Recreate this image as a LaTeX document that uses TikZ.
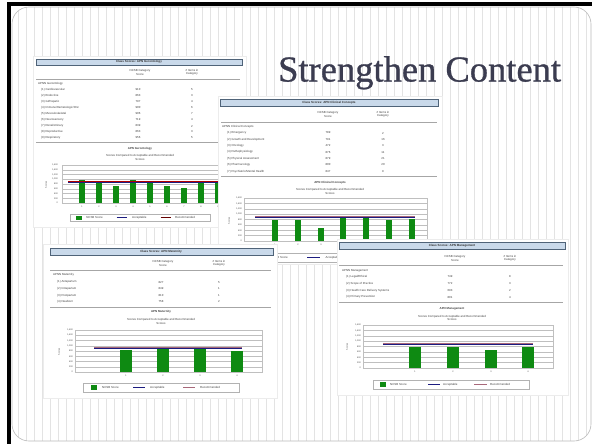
\documentclass[tikz,border=0pt]{standalone}
\usepackage{fontspec}
\newfontfamily\reportfont{Liberation Sans}
\newfontfamily\slidefont[FakeBold=0.8]{Liberation Serif}
\definecolor{headblue}{HTML}{C9D9EA}
\definecolor{headedge}{HTML}{4F6378}
\definecolor{barGreen}{HTML}{0E8A12}
\definecolor{accBlue}{HTML}{1C1C80}
\definecolor{recRose}{HTML}{A8687A}
\definecolor{titlegray}{HTML}{3B3C50}

\begin{document}
\begin{tikzpicture}[x=1pt, y=-1pt,
  stripe/.style={draw=gray!22, line width=0.5pt},
  slide edge/.style={draw=gray!55, line width=0.6pt, rounded corners=17pt},
  title/.style={anchor=base west, inner sep=0pt, font=\slidefont\fontsize{36.5}{40}\selectfont, text=titlegray},
  panel/.style={fill=white, draw=gray!15, line width=0.3pt},
  headbar/.style={fill=headblue, draw=headedge, line width=0.6pt},
  tiny/.style={font=\reportfont\fontsize{2.9}{3.4}\selectfont, text=black!75, inner sep=0pt},
  headtext/.style={tiny, font=\reportfont\bfseries\fontsize{3}{3.4}\selectfont, text=black!80},
  charttitle/.style={tiny, font=\reportfont\bfseries\fontsize{2.9}{3.4}\selectfont},
  axis label/.style={tiny, font=\reportfont\fontsize{2.2}{2.6}\selectfont},
  rule/.style={draw=gray!70, line width=0.7pt},
  grid line/.style={draw=gray!50, line width=0.3pt},
  bar/.style={fill=barGreen},
  acceptable/.style={draw=accBlue, line width=1pt},
  recommended/.style={draw=recRose, line width=1.2pt},
  legend box/.style={draw=gray!60, fill=white, line width=0.4pt}]

  % Define slide frame
  \useasboundingbox (0,0) rectangle (592,444);
  \fill[white] (0,0) rectangle (592,444);
  \fill[black] (7,2) rectangle (592,6);
  \fill[black] (7,2) rectangle (11,444);
  \begin{scope}
    \path[clip, rounded corners=17pt] (12,7) rectangle (591,441);
    \fill[white] (12,7) rectangle (591,441);
    \foreach \sx in {10.7,18.7,...,594.7}
      \draw[stripe] (\sx,7) -- (\sx,441);
  \end{scope}
  \draw[slide edge] (12,7) rectangle (591,441);

  \node[title] (title) at (278,81.5) {Strengthen Content};

  % Gerontology report
  \path[panel] (33,56) rectangle (246,227);
  \draw[headbar] (36,59) rectangle (242,65);
  \node[headtext] (geront head) at (139,62) {Class Scores: APN Gerontology};
  \node[tiny, align=center] (geront col1) at (140,72.5) {NCSB Category\\Score};
  \node[tiny, align=center] (geront col2) at (192,72.5) {\# Items in\\Category};
  \draw[rule] (36,79) -- (240,79);
  \node[tiny, anchor=west] (geront area) at (38,84) {APNN Gerontology};
  \foreach \lab/\sc/\n [count=\i] in {(1) Cardiovascular/910/5, (2) Endocrine/863/3,
      (3) GI{/}Hepatic/797/4, (4) Immune{/}Hematologic{/}Onc/900/6, (5) Musculoskeletal/906/7,
      (6) Neurosensory/719/4, (7) Renal{/}Urinary/839/2, (8) Reproductive/863/3, (9) Respiratory/956/5}
    {
      \node[tiny, anchor=west] (geront row\i) at (41,{84+6*\i}) {\lab};
      \node[tiny] (geront score\i) at (138,{84+6*\i}) {\sc};
      \node[tiny] (geront items\i) at (192,{84+6*\i}) {\n};
    }
  \draw[rule] (36,142) -- (240,142);
  \node[charttitle] (geront chart) at (140,149) {APN Gerontology};
  \node[tiny, align=center] (geront sub) at (140,157.5) {Scores Compared to Acceptable and Recommended\\Scores};
  \draw[grid line] (62,165) rectangle (240,203);
  \foreach \k in {1,...,7}
    \draw[grid line] (62,{165+\k*4.75}) -- (240,{165+\k*4.75});
  \foreach \lab [count=\k from 0] in {{1,600},{1,400},{1,200},{1,000},800,600,400,200,0}
    \node[axis label, anchor=east] at (58,{165+\k*4.75}) {\lab};
  \node[axis label, rotate=90] (geront axis) at (46,185) {Scores};
  \foreach \bx/\v [count=\i] in {82/963, 99/866, 116/722, 133/963, 150/866, 167/722, 184/637, 201/866, 218/866}
    {
      \fill[bar] ({\bx-3},{203-\v/1600*38}) rectangle ({\bx+3},203);
      \node[axis label] at (\bx,206.5) {\i};
    }
  \draw[acceptable] (68,{203-866/1600*38}) -- (240,{203-866/1600*38});
  \draw[recommended, draw=red!70!black] (68,{202-866/1600*38}) -- (240,{202-866/1600*38});
  \begin{scope}[shift={(70,214)}, xscale=140/156]
    \draw[legend box] (0,0) rectangle (156,7);
    \fill[bar] (7,1.5) rectangle (13,5.5);
    \node[tiny, anchor=west] (geront key1) at (18,3.5) {NCSB Score};
    \draw[acceptable, line width=1.4pt] (52,3.5) -- (64,3.5);
    \node[tiny, anchor=west] (geront key2) at (69,3.5) {Acceptable};
    \draw[recommended, draw=red!40!black, line width=1.4pt] (101,3.5) -- (113,3.5);
    \node[tiny, anchor=west] (geront key3) at (117,3.5) {Recommended};
  \end{scope}

  % Clinical concepts report
  \path[panel] (218,96) rectangle (442,264);
  \draw[headbar] (220,99) rectangle (438,106);
  \node[headtext] (clinic head) at (329,102.5) {Class Scores: APN Clinical Concepts};
  \node[tiny, align=center] (clinic col1) at (328,114.5) {NCSB Category\\Score};
  \node[tiny, align=center] (clinic col2) at (383,114.5) {\# Items in\\Category};
  \draw[rule] (221,122) -- (437,122);
  \node[tiny, anchor=west] (clinic area) at (222,127) {APNN Clinical Concepts};
  \foreach \lab/\sc/\n [count=\i] in {(1) Emergency/789/2, (2) Growth and Development/791/16,
      (3) Oncology/472/3, (4) Pathophysiology/876/11, (5) Physical Assessment/879/21,
      (6) Pharmacology/800/20, (7) Psychiatric{/}Mental Health/847/9}
    {
      \node[tiny, anchor=west] (clinic row\i) at (227,{126.6+6.4*\i}) {\lab};
      \node[tiny] (clinic score\i) at (328,{126.6+6.4*\i}) {\sc};
      \node[tiny] (clinic items\i) at (383,{126.6+6.4*\i}) {\n};
    }
  \draw[rule] (221,176) -- (437,176);
  \node[charttitle] (clinic chart) at (330,183) {APN Clinical Concepts};
  \node[tiny, align=center] (clinic sub) at (330,191.5) {Scores Compared to Acceptable and Recommended\\Scores};
  \draw[grid line] (244,198) rectangle (427,241);
  \foreach \k in {1,...,7}
    \draw[grid line] (244,{198+\k*5.375}) -- (427,{198+\k*5.375});
  \foreach \lab [count=\k from 0] in {{1,600},{1,400},{1,200},{1,000},800,600,400,200,0}
    \node[axis label, anchor=east] at (242,{198+\k*5.375}) {\lab};
  \node[axis label, rotate=90] (clinic axis) at (229,221) {Scores};
  \foreach \bx/\v [count=\i] in {275/767, 298/767, 321/476, 343/860, 366/860, 389/767, 412/821}
    {
      \fill[bar] ({\bx-3.3},{241-\v/1600*43}) rectangle ({\bx+3.3},241);
      \node[axis label] at (\bx,244.5) {\i};
    }
  \draw[acceptable] (255,{241-860/1600*43}) -- (415,{241-860/1600*43});
  \draw[recommended] (255,{239.8-860/1600*43}) -- (415,{239.8-860/1600*43});
  \begin{scope}[shift={(252,253)}, xscale=166/156]
    \draw[legend box] (0,0) rectangle (156,9);
    \fill[bar] (7,2) rectangle (13,7);
    \node[tiny, anchor=west] (clinic key1) at (18,4.5) {NCSB Score};
    \draw[acceptable, line width=1.4pt] (52,4.5) -- (64,4.5);
    \node[tiny, anchor=west] (clinic key2) at (69,4.5) {Acceptable};
    \draw[recommended, line width=1.4pt] (101,4.5) -- (113,4.5);
    \node[tiny, anchor=west] (clinic key3) at (117,4.5) {Recommended};
  \end{scope}

  % Maternity report
  \path[panel] (43,244) rectangle (277,398);
  \draw[headbar] (50,248) rectangle (273,255);
  \node[headtext] (mater head) at (161,251.5) {Class Scores: APN Maternity};
  \node[tiny, align=center] (mater col1) at (163,263.5) {NCSB Category\\Score};
  \node[tiny, align=center] (mater col2) at (219,263.5) {\# Items in\\Category};
  \draw[rule] (50,270) -- (271,270);
  \node[tiny, anchor=west] (mater area) at (53,275) {APNN Maternity};
  \foreach \lab/\sc/\n [count=\i] in {(1) Antepartum/827/5, (2) Intrapartum/849/1,
      (3) Postpartum/810/1, (4) Newborn/758/2}
    {
      \node[tiny, anchor=west] (mater row\i) at (57,{275.5+6.6*\i}) {\lab};
      \node[tiny] (mater score\i) at (161,{275.5+6.6*\i}) {\sc};
      \node[tiny] (mater items\i) at (219,{275.5+6.6*\i}) {\n};
    }
  \draw[rule] (50,307) -- (271,307);
  \node[charttitle] (mater chart) at (161,312) {APN Maternity};
  \node[tiny, align=center] (mater sub) at (161,321.5) {Scores Compared to Acceptable and Recommended\\Scores};
  \draw[grid line] (75,330) rectangle (262,372);
  \foreach \k in {1,...,7}
    \draw[grid line] (75,{330+\k*5.25}) -- (262,{330+\k*5.25});
  \foreach \lab [count=\k from 0] in {{1,600},{1,400},{1,200},{1,000},800,600,400,200,0}
    \node[axis label, anchor=east] at (73,{330+\k*5.25}) {\lab};
  \node[axis label, rotate=90] (mater axis) at (59,352) {Scores};
  \foreach \bx/\v [count=\i] in {126/838, 163/864, 200/864, 237/800}
    {
      \fill[bar] ({\bx-6},{372-\v/1600*42}) rectangle ({\bx+6},372);
      \node[axis label] at (\bx,376) {\i};
    }
  \draw[acceptable] (94,{372-902/1600*42}) -- (242,{372-902/1600*42});
  \draw[recommended] (94,{370.8-902/1600*42}) -- (242,{370.8-902/1600*42});
  \begin{scope}[shift={(83,383)}]
    \draw[legend box] (0,0) rectangle (156,9);
    \fill[bar] (8,2) rectangle (14,7);
    \node[tiny, anchor=west] (mater key1) at (19,4.5) {NCSB Score};
    \draw[acceptable, line width=1.4pt] (50,4.5) -- (62,4.5);
    \node[tiny, anchor=west] (mater key2) at (67,4.5) {Acceptable};
    \draw[recommended, line width=1.4pt] (100,4.5) -- (112,4.5);
    \node[tiny, anchor=west] (mater key3) at (117,4.5) {Recommended};
  \end{scope}

  % Management report
  \path[panel] (337,239) rectangle (568,395);
  \draw[headbar] (339,242) rectangle (565,249);
  \node[headtext] (manage head) at (452,245.5) {Class Scores: APN Management};
  \node[tiny, align=center] (manage col1) at (455,258.5) {NCSB Category\\Score};
  \node[tiny, align=center] (manage col2) at (510,258.5) {\# Items in\\Category};
  \draw[rule] (339,265) -- (563,265);
  \node[tiny, anchor=west] (manage area) at (342,271) {APNN Management};
  \foreach \lab/\sc/\n [count=\i] in {(1) Legal{/}Ethical/749/8, (2) Scope of Practice/772/3,
      (3) Health Care Delivery Systems/693/2, (4) Primary Prevention/801/4}
    {
      \node[tiny, anchor=west] (manage row\i) at (346,{270.3+6.7*\i}) {\lab};
      \node[tiny] (manage score\i) at (450,{270.3+6.7*\i}) {\sc};
      \node[tiny] (manage items\i) at (510,{270.3+6.7*\i}) {\n};
    }
  \draw[rule] (339,302) -- (563,302);
  \node[charttitle] (manage chart) at (452,309) {APN Management};
  \node[tiny, align=center] (manage sub) at (452,318) {Scores Compared to Acceptable and Recommended\\Scores};
  \draw[grid line] (363,325) rectangle (553,368);
  \foreach \k in {1,...,7}
    \draw[grid line] (363,{325+\k*5.375}) -- (553,{325+\k*5.375});
  \foreach \lab [count=\k from 0] in {{1,600},{1,400},{1,200},{1,000},800,600,400,200,0}
    \node[axis label, anchor=east] at (361,{325+\k*5.375}) {\lab};
  \node[axis label, rotate=90] (manage axis) at (347,347) {Scores};
  \foreach \bx/\v [count=\i] in {415/770, 453/770, 491/670, 528/770}
    {
      \fill[bar] ({\bx-6},{368-\v/1600*43}) rectangle ({\bx+6},368);
      \node[axis label] at (\bx,372) {\i};
    }
  \draw[acceptable] (383,{368-880/1600*43}) -- (533,{368-880/1600*43});
  \draw[recommended] (383,{366.8-880/1600*43}) -- (533,{366.8-880/1600*43});
  \begin{scope}[shift={(373,380)}]
    \draw[legend box] (0,0) rectangle (156,9);
    \fill[bar] (7,2) rectangle (13,7);
    \node[tiny, anchor=west] (manage key1) at (17,4.5) {NCSB Score};
    \draw[acceptable, line width=1.4pt] (55,4.5) -- (67,4.5);
    \node[tiny, anchor=west] (manage key2) at (70,4.5) {Acceptable};
    \draw[recommended, line width=1.4pt] (101,4.5) -- (114,4.5);
    \node[tiny, anchor=west] (manage key3) at (117,4.5) {Recommended};
  \end{scope}
\end{tikzpicture}
\end{document}
